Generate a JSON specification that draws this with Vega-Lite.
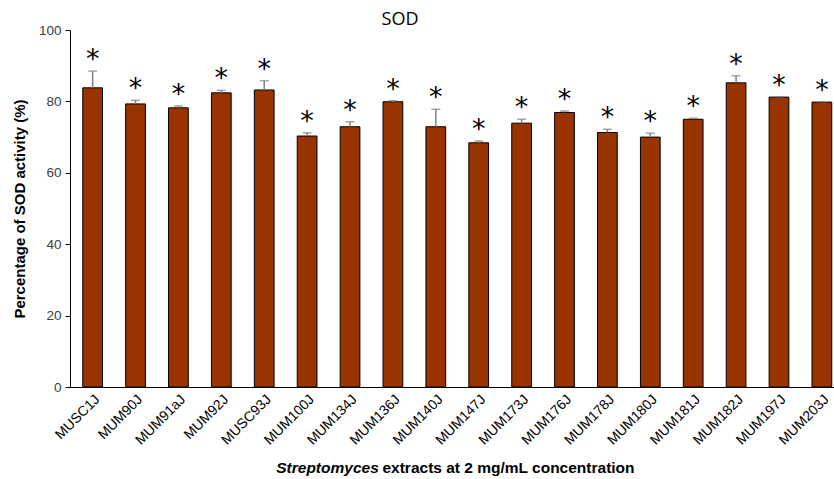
{
  "$schema": "https://vega.github.io/schema/vega-lite/v6.json",
  "autosize": {"type": "none"},
  "width": 764,
  "height": 357,
  "padding": {"left": 70, "top": 30, "right": 0, "bottom": 92},
  "background": "white",
  "config": {"view": {"stroke": null}, "font": "Liberation Sans"},
  "title": {"text": "SOD", "fontSize": 18, "fontWeight": "normal", "font": "Open Sans", "color": "#000000", "anchor": "middle", "dx": -52, "offset": 0, "dy": 6},
  "data": {"values": [
    {"strain": "MUSC1J", "value": 83.8, "upper": 88.5},
    {"strain": "MUM90J", "value": 79.3, "upper": 80.3},
    {"strain": "MUM91aJ", "value": 78.2, "upper": 78.7},
    {"strain": "MUM92J", "value": 82.4, "upper": 83.1},
    {"strain": "MUSC93J", "value": 83.2, "upper": 85.8},
    {"strain": "MUM100J", "value": 70.3, "upper": 71.2},
    {"strain": "MUM134J", "value": 72.9, "upper": 74.3},
    {"strain": "MUM136J", "value": 79.9, "upper": 80.2},
    {"strain": "MUM140J", "value": 72.9, "upper": 77.8},
    {"strain": "MUM147J", "value": 68.4, "upper": 68.9},
    {"strain": "MUM173J", "value": 73.9, "upper": 75.0},
    {"strain": "MUM176J", "value": 76.9, "upper": 77.3},
    {"strain": "MUM178J", "value": 71.3, "upper": 72.2},
    {"strain": "MUM180J", "value": 70.0, "upper": 71.1},
    {"strain": "MUM181J", "value": 75.0, "upper": 75.3},
    {"strain": "MUM182J", "value": 85.2, "upper": 87.2},
    {"strain": "MUM197J", "value": 81.2, "upper": 81.3},
    {"strain": "MUM203J", "value": 79.8, "upper": 79.9}
  ]},
  "resolve": {"axis": {"x": "independent"}},
  "layer": [
    {
      "mark": {"type": "bar", "fill": "#993300", "stroke": "#000000", "strokeWidth": 1},
      "encoding": {
        "x": {
          "field": "strain", "type": "nominal", "sort": null,
          "scale": {"paddingInner": 0.54, "paddingOuter": 0.175, "align": 0.85},
          "axis": {
            "title": "extracts at 2 mg/mL concentration",
            "titleFontSize": 15.5, "titleFontWeight": "bold", "titleColor": "#000000",
            "titleX": 438, "titleY": 80, "titleAnchor": "middle", "titleAlign": "center", "titleBaseline": "middle",
            "labelAngle": -45, "labelFontSize": 14, "labelColor": "#000000", "labelPadding": 5,
            "ticks": false, "domainColor": "#000000", "domainWidth": 1, "grid": false
          }
        },
        "y": {
          "field": "value", "type": "quantitative",
          "scale": {"domain": [0, 100]},
          "axis": {
            "title": "Percentage of SOD activity (%)", "titleFontSize": 15, "titleFontWeight": "bold",
            "titleColor": "#000000", "titlePadding": 11,
            "values": [0, 20, 40, 60, 80, 100], "labelFontSize": 13.5, "labelColor": "#404040",
            "tickSize": 5, "tickColor": "#000000", "domainColor": "#000000", "grid": false, "labelPadding": 4
          }
        }
      }
    },
    {
      "mark": {"type": "rule", "color": "#808080", "strokeWidth": 1.5},
      "encoding": {
        "x": {
          "field": "strain", "type": "nominal", "sort": null,
          "axis": {
            "orient": "bottom",
            "title": "Streptomyces", "titleFontSize": 15.5, "titleFontWeight": "bold", "titleFontStyle": "italic",
            "titleColor": "#000000", "titleX": 257, "titleY": 80, "titleAnchor": "middle", "titleAlign": "center",
            "titleBaseline": "middle", "labels": false, "ticks": false, "domain": false, "grid": false, "offset": 0
          }
        },
        "y": {"field": "value", "type": "quantitative"}, "y2": {"field": "upper"}
      }
    },
    {
      "mark": {"type": "tick", "color": "#808080", "thickness": 1.5, "size": 9, "orient": "horizontal"},
      "encoding": {
        "x": {"field": "strain", "type": "nominal", "sort": null, "axis": null},
        "y": {"field": "upper", "type": "quantitative"}
      }
    },
    {
      "mark": {"type": "text", "text": "*", "fontSize": 27, "font": "DejaVu Sans", "color": "#000000", "baseline": "alphabetic", "dy": -3},
      "encoding": {
        "x": {"field": "strain", "type": "nominal", "sort": null, "axis": null},
        "y": {"field": "upper", "type": "quantitative"}
      }
    }
  ]
}
